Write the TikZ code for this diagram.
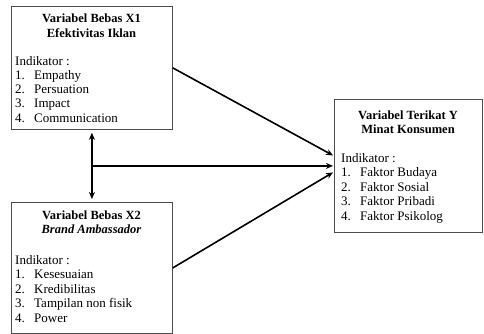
\documentclass[tikz,border=0pt]{standalone}
\usepackage{fontspec}
\setmainfont{Liberation Serif}
\usetikzlibrary{arrows.meta,calc}
\begin{document}
\begin{tikzpicture}[x=1pt,y=-1pt,
  boxst/.style={draw=black!70,line width=0.8pt,anchor=north west,inner sep=0pt},
  titlest/.style={anchor=base,inner sep=0pt,font=\bfseries\fontsize{12.5}{14}\selectfont},
  linest/.style={anchor=base west,inner sep=0pt,font=\fontsize{13}{14}\selectfont},
  arr/.style={line width=1.6pt,-{Stealth[length=7pt,width=6pt]}},
  darr/.style={line width=1.6pt,{Stealth[length=7pt,width=6pt]}-{Stealth[length=7pt,width=6pt]}}]
\useasboundingbox (0,0) rectangle (484,334);
\newcommand{\itm}[2]{\makebox[19pt][l]{#1}#2}
% boxes
\node (x1) [boxst,minimum width=161pt,minimum height=123pt] at (11,6) {};
\node (x2) [boxst,minimum width=161pt,minimum height=131pt] at (11,202) {};
\node (yb) [boxst,minimum width=148pt,minimum height=133pt] at (334,99) {};
% X1 text
\node (x1t1) [titlest] at (91.5,22.5) {Variabel Bebas X1};
\node (x1t2) [titlest] at (91.5,37.5) {Efektivitas Iklan};
\node (x1i) [linest] at (15,66) {Indikator :};
\node (x1a) [linest] at (15,80) {\itm{1.}{Empathy}};
\node (x1b) [linest] at (15,94) {\itm{2.}{Persuation}};
\node (x1c) [linest] at (15,108) {\itm{3.}{Impact}};
\node (x1d) [linest] at (15,122) {\itm{4.}{Communication}};
% X2 text
\node (x2t1) [titlest] at (91.5,219) {Variabel Bebas X2};
\node (x2t2) [titlest] at (91.5,233.5) {\itshape Brand Ambassador};
\node (x2i) [linest] at (15,264.5) {Indikator :};
\node (x2a) [linest] at (15,278.5) {\itm{1.}{Kesesuaian}};
\node (x2b) [linest] at (15,293) {\itm{2.}{Kredibilitas}};
\node (x2c) [linest] at (15,307.5) {\itm{3.}{Tampilan non fisik}};
\node (x2d) [linest] at (15,322) {\itm{4.}{Power}};
% Y text
\node (yt1) [titlest] at (408,119) {Variabel Terikat Y};
\node (yt2) [titlest] at (408,133.5) {Minat Konsumen};
\node (yi) [linest] at (341,162) {Indikator :};
\node (ya) [linest] at (341,176.5) {\itm{1.}{Faktor Budaya}};
\node (yb2) [linest] at (341,191) {\itm{2.}{Faktor Sosial}};
\node (yc) [linest] at (341,205.5) {\itm{3.}{Faktor Pribadi}};
\node (yd) [linest] at (341,220) {\itm{4.}{Faktor Psikolog}};
% connectors
\coordinate (hs) at (x1.south |- yb.west);
\draw[darr,shorten <=3pt,shorten >=3pt] (x1.south) -- (x2.north);
\draw[line width=1.6pt] (hs) -- ++(0.1,0);
\draw[arr] (hs) -- ($(yb.west)+(-1,0)$);
\draw[arr] (x1.east) -- ($(yb.west)+(-1,-10.5)$);
\draw[arr] (x2.east) -- ($(yb.west)+(-1,6.5)$);
\end{tikzpicture}
\end{document}
